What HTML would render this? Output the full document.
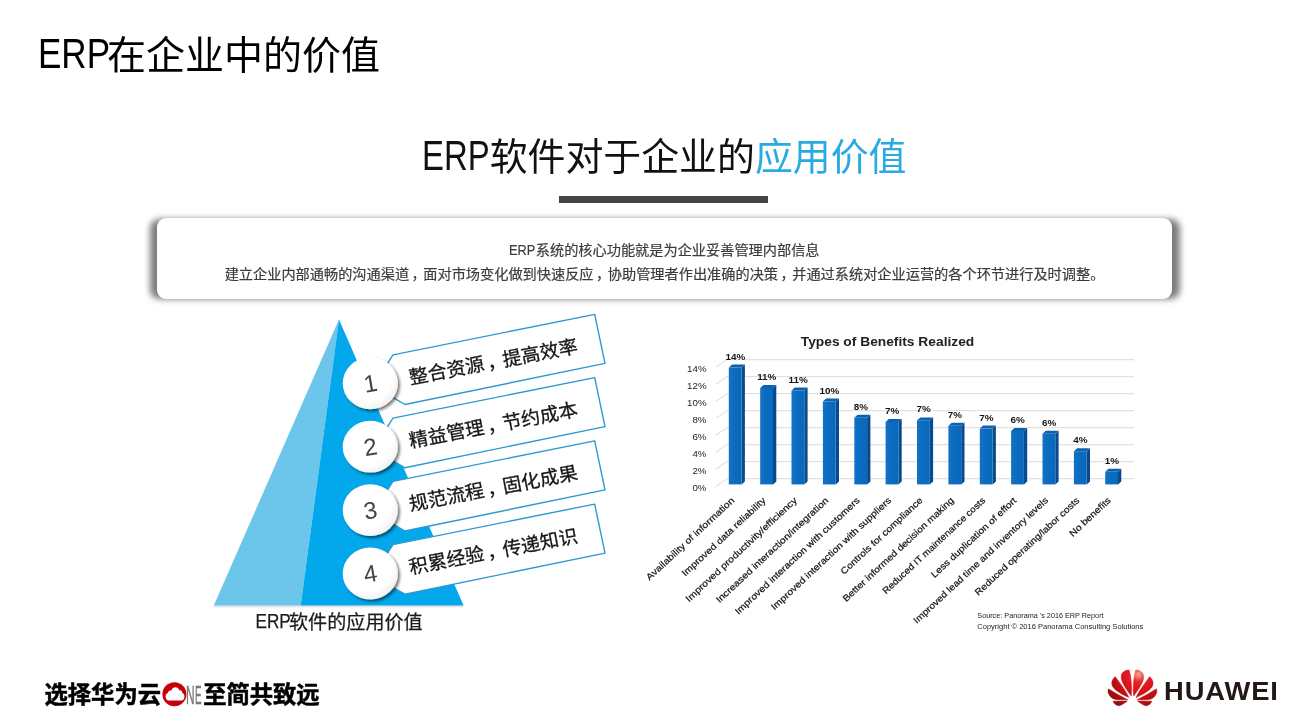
<!DOCTYPE html>
<html lang="zh-CN">
<head>
<meta charset="utf-8">
<title>ERP在企业中的价值</title>
<style>
html,body{margin:0;padding:0;background:#fff;}
body{width:1293px;height:721px;position:relative;overflow:hidden;font-family:"Liberation Sans","Noto Sans CJK SC",sans-serif;color:#000;}
.abs{position:absolute;white-space:nowrap;}
.lat{display:inline-block;transform-origin:0 68%;}
#t1erp{transform:translateY(-1px) scale(.898,1.10);margin-right:-10.9px;}
#t2erp{transform:scale(.868,1.10);margin-right:-10.3px;}
#title{left:37.7px;top:25.6px;font-size:39px;line-height:60px;color:#000;}
#h2{left:422px;top:127.2px;font-size:37.9px;line-height:60px;color:#111;}
#h2 .blue{color:#29abe2;}
#ubar{left:559px;top:195.5px;width:209px;height:7px;background:#444;}
#box{left:157px;top:217.6px;width:1015px;height:81px;border-radius:9px;background:#fff;}
#boxsh{left:149.5px;top:219px;width:1030px;height:80px;border-radius:9px;background:#7c7c7c;filter:blur(3px);}
.bl{left:157px;width:1015px;text-align:center;font-size:14.2px;line-height:20px;color:#3c3c3c;-webkit-text-stroke:0.2px #3c3c3c;}
.cm{position:relative;left:2.5px;}
#b_erp{transform:scaleX(.9);margin-right:-2.8px;}
#foot{left:44.5px;top:678.6px;font-size:23.3px;line-height:32px;font-weight:700;color:#000;-webkit-text-stroke:0.5px #000;}
#hw{left:1164.4px;top:675.8px;font-size:25.3px;line-height:30px;font-weight:bold;color:#231815;letter-spacing:0.85px;transform:scaleX(1.08);transform-origin:0 50%;}
svg{position:absolute;left:0;top:0;}
</style>
</head>
<body>
<div id="title" class="abs"><span class="lat" id="t1erp">ERP</span>在企业中的价值</div>
<div id="h2" class="abs"><span class="lat" id="t2erp">ERP</span>软件对于企业的<span class="blue">应用价值</span></div>
<div id="ubar" class="abs"></div>
<div id="boxsh" class="abs"></div>
<div id="box" class="abs"></div>
<div class="abs bl" style="top:240px"><span class="lat" id="b_erp">ERP</span>系统的核心功能就是为企业妥善管理内部信息</div>
<div class="abs bl" style="top:264px">建立企业内部通畅的沟通渠道<span class="cm">，</span>面对市场变化做到快速反应<span class="cm">，</span>协助管理者作出准确的决策<span class="cm">，</span>并通过系统对企业运营的各个环节进行及时调整。</div>
<svg id="art" width="1293" height="721" viewBox="0 0 1293 721">
<defs>
<filter id="csh" x="-40%" y="-40%" width="190%" height="190%"><feGaussianBlur in="SourceAlpha" stdDeviation="1.7"/><feOffset dx="2.2" dy="2.2"/><feComponentTransfer><feFuncA type="linear" slope="0.55"/></feComponentTransfer><feMerge><feMergeNode/><feMergeNode in="SourceGraphic"/></feMerge></filter>
<radialGradient id="cg" cx="40%" cy="38%" r="70%"><stop offset="0.7" stop-color="#ffffff"/><stop offset="1" stop-color="#ececec"/></radialGradient>
<linearGradient id="bsh" x1="0" y1="0" x2="0" y2="1"><stop offset="0" stop-color="#bbb" stop-opacity="0.7"/><stop offset="1" stop-color="#fff" stop-opacity="0"/></linearGradient>
</defs>
<rect x="213.8" y="605.6" width="249.8" height="3.5" fill="url(#bsh)"/>
<polygon points="339,319.4 213.8,605.6 300.7,605.6" fill="#6cc5ea"/>
<polygon points="339,319.4 300.7,605.6 463.6,605.6" fill="#02a8eb"/>
<polygon points="376.0,383.0 387.7,363.1 393.0,354.9 594.7,314.4 605.0,363.4 404.9,404.5 394.9,398.7" fill="#fff" stroke="#2f98cf" stroke-width="1.4" stroke-linejoin="round"/>
<text x="493.3" y="361.8" transform="rotate(-11 493.3 361.8)" text-anchor="middle" dominant-baseline="central" font-size="19" fill="#161616" stroke="#161616" stroke-width="0.3" font-family="'Liberation Sans','Noto Sans CJK SC',sans-serif">整合资源<tspan dx="3">，</tspan><tspan dx="-3">提高效率</tspan></text>
<polygon points="376.0,446.2 387.7,426.4 393.0,418.1 594.7,377.6 605.0,426.6 404.9,467.8 394.9,461.9" fill="#fff" stroke="#2f98cf" stroke-width="1.4" stroke-linejoin="round"/>
<text x="493.3" y="425.1" transform="rotate(-11 493.3 425.1)" text-anchor="middle" dominant-baseline="central" font-size="19" fill="#161616" stroke="#161616" stroke-width="0.3" font-family="'Liberation Sans','Noto Sans CJK SC',sans-serif">精益管理<tspan dx="3">，</tspan><tspan dx="-3">节约成本</tspan></text>
<polygon points="376.0,509.5 387.7,489.6 393.0,481.4 594.7,440.9 605.0,489.9 404.9,531.0 394.9,525.2" fill="#fff" stroke="#2f98cf" stroke-width="1.4" stroke-linejoin="round"/>
<text x="493.3" y="488.3" transform="rotate(-11 493.3 488.3)" text-anchor="middle" dominant-baseline="central" font-size="19" fill="#161616" stroke="#161616" stroke-width="0.3" font-family="'Liberation Sans','Noto Sans CJK SC',sans-serif">规范流程<tspan dx="3">，</tspan><tspan dx="-3">固化成果</tspan></text>
<polygon points="376.0,572.8 387.7,552.9 393.0,544.6 594.7,504.1 605.0,553.1 404.9,594.2 394.9,588.5" fill="#fff" stroke="#2f98cf" stroke-width="1.4" stroke-linejoin="round"/>
<text x="493.3" y="551.5" transform="rotate(-11 493.3 551.5)" text-anchor="middle" dominant-baseline="central" font-size="19" fill="#161616" stroke="#161616" stroke-width="0.3" font-family="'Liberation Sans','Noto Sans CJK SC',sans-serif">积累经验<tspan dx="3">，</tspan><tspan dx="-3">传递知识</tspan></text>
<ellipse cx="370.3" cy="383.3" rx="27.6" ry="25.9" fill="url(#cg)" filter="url(#csh)"/>
<text x="370.3" y="391.8" transform="rotate(-10 370.3 383.3)" text-anchor="middle" font-size="24" font-weight="300" fill="#444" font-family="'Liberation Sans','Noto Sans CJK SC',sans-serif">1</text>
<ellipse cx="370.3" cy="446.7" rx="27.6" ry="25.9" fill="url(#cg)" filter="url(#csh)"/>
<text x="370.3" y="455.2" transform="rotate(-10 370.3 446.7)" text-anchor="middle" font-size="24" font-weight="300" fill="#444" font-family="'Liberation Sans','Noto Sans CJK SC',sans-serif">2</text>
<ellipse cx="370.3" cy="510.1" rx="27.6" ry="25.9" fill="url(#cg)" filter="url(#csh)"/>
<text x="370.3" y="518.6" transform="rotate(-10 370.3 510.1)" text-anchor="middle" font-size="24" font-weight="300" fill="#444" font-family="'Liberation Sans','Noto Sans CJK SC',sans-serif">3</text>
<ellipse cx="370.3" cy="573.5" rx="27.6" ry="25.9" fill="url(#cg)" filter="url(#csh)"/>
<text x="370.3" y="582.0" transform="rotate(-10 370.3 573.5)" text-anchor="middle" font-size="24" font-weight="300" fill="#444" font-family="'Liberation Sans','Noto Sans CJK SC',sans-serif">4</text>
<text x="255.6" y="628.3" font-size="21" fill="#1c1c1c" stroke="#1c1c1c" stroke-width="0.25" textLength="35.2" lengthAdjust="spacingAndGlyphs" font-family="'Liberation Sans','Noto Sans CJK SC',sans-serif">ERP</text>
<text x="289.0" y="628.6" font-size="19.1" fill="#1c1c1c" stroke="#1c1c1c" stroke-width="0.25" font-family="'Liberation Sans','Noto Sans CJK SC',sans-serif">软件的应用价值</text>
<defs>
<linearGradient id="bf" x1="0" y1="0" x2="1" y2="0"><stop offset="0" stop-color="#1173c8"/><stop offset="0.35" stop-color="#0c6cc0"/><stop offset="1" stop-color="#0a68bb"/></linearGradient>
</defs>
<text x="887.5" y="346" text-anchor="middle" font-size="13.4" font-weight="bold" fill="#222" textLength="173.5" lengthAdjust="spacingAndGlyphs" font-family="'Liberation Sans','Noto Sans CJK SC',sans-serif">Types of Benefits Realized</text>
<path d="M716,486.2 L727,478.7 L1134,478.7" fill="none" stroke="#dadada" stroke-width="1"/>
<text x="706.5" y="490.7" text-anchor="end" font-size="9.7" fill="#222" font-family="'Liberation Sans','Noto Sans CJK SC',sans-serif">0%</text>
<path d="M716,469.2 L727,461.7 L1134,461.7" fill="none" stroke="#dadada" stroke-width="1"/>
<text x="706.5" y="473.7" text-anchor="end" font-size="9.7" fill="#222" font-family="'Liberation Sans','Noto Sans CJK SC',sans-serif">2%</text>
<path d="M716,452.2 L727,444.7 L1134,444.7" fill="none" stroke="#dadada" stroke-width="1"/>
<text x="706.5" y="456.7" text-anchor="end" font-size="9.7" fill="#222" font-family="'Liberation Sans','Noto Sans CJK SC',sans-serif">4%</text>
<path d="M716,435.2 L727,427.7 L1134,427.7" fill="none" stroke="#dadada" stroke-width="1"/>
<text x="706.5" y="439.7" text-anchor="end" font-size="9.7" fill="#222" font-family="'Liberation Sans','Noto Sans CJK SC',sans-serif">6%</text>
<path d="M716,418.2 L727,410.7 L1134,410.7" fill="none" stroke="#dadada" stroke-width="1"/>
<text x="706.5" y="422.7" text-anchor="end" font-size="9.7" fill="#222" font-family="'Liberation Sans','Noto Sans CJK SC',sans-serif">8%</text>
<path d="M716,401.2 L727,393.7 L1134,393.7" fill="none" stroke="#dadada" stroke-width="1"/>
<text x="706.5" y="405.7" text-anchor="end" font-size="9.7" fill="#222" font-family="'Liberation Sans','Noto Sans CJK SC',sans-serif">10%</text>
<path d="M716,384.2 L727,376.7 L1134,376.7" fill="none" stroke="#dadada" stroke-width="1"/>
<text x="706.5" y="388.7" text-anchor="end" font-size="9.7" fill="#222" font-family="'Liberation Sans','Noto Sans CJK SC',sans-serif">12%</text>
<path d="M716,367.2 L727,359.7 L1134,359.7" fill="none" stroke="#dadada" stroke-width="1"/>
<text x="706.5" y="371.7" text-anchor="end" font-size="9.7" fill="#222" font-family="'Liberation Sans','Noto Sans CJK SC',sans-serif">14%</text>
<polygon points="741.6,367.5 744.9,364.5 744.9,481.4 741.6,484.4" fill="#074b8e"/>
<polygon points="728.8,367.5 732.1,364.5 744.9,364.5 741.6,367.5" fill="#0b62b0"/>
<rect x="728.8" y="367.5" width="12.8" height="116.9" fill="url(#bf)"/>
<text x="735.4" y="359.5" text-anchor="middle" font-size="9.9" font-weight="bold" fill="#151515" font-family="'Liberation Sans','Noto Sans CJK SC',sans-serif">14%</text>
<polygon points="773.0,388.0 776.3,385.0 776.3,481.4 773.0,484.4" fill="#074b8e"/>
<polygon points="760.2,388.0 763.5,385.0 776.3,385.0 773.0,388.0" fill="#0b62b0"/>
<rect x="760.2" y="388.0" width="12.8" height="96.4" fill="url(#bf)"/>
<text x="766.8" y="380.0" text-anchor="middle" font-size="9.9" font-weight="bold" fill="#151515" font-family="'Liberation Sans','Noto Sans CJK SC',sans-serif">11%</text>
<polygon points="804.3,390.5 807.6,387.5 807.6,481.4 804.3,484.4" fill="#074b8e"/>
<polygon points="791.5,390.5 794.8,387.5 807.6,387.5 804.3,390.5" fill="#0b62b0"/>
<rect x="791.5" y="390.5" width="12.8" height="93.9" fill="url(#bf)"/>
<text x="798.1" y="382.5" text-anchor="middle" font-size="9.9" font-weight="bold" fill="#151515" font-family="'Liberation Sans','Noto Sans CJK SC',sans-serif">11%</text>
<polygon points="835.7,401.5 839.0,398.5 839.0,481.4 835.7,484.4" fill="#074b8e"/>
<polygon points="822.9,401.5 826.2,398.5 839.0,398.5 835.7,401.5" fill="#0b62b0"/>
<rect x="822.9" y="401.5" width="12.8" height="82.9" fill="url(#bf)"/>
<text x="829.5" y="393.5" text-anchor="middle" font-size="9.9" font-weight="bold" fill="#151515" font-family="'Liberation Sans','Noto Sans CJK SC',sans-serif">10%</text>
<polygon points="867.1,417.7 870.4,414.7 870.4,481.4 867.1,484.4" fill="#074b8e"/>
<polygon points="854.3,417.7 857.6,414.7 870.4,414.7 867.1,417.7" fill="#0b62b0"/>
<rect x="854.3" y="417.7" width="12.8" height="66.7" fill="url(#bf)"/>
<text x="860.9" y="409.7" text-anchor="middle" font-size="9.9" font-weight="bold" fill="#151515" font-family="'Liberation Sans','Noto Sans CJK SC',sans-serif">8%</text>
<polygon points="898.4,422.0 901.7,419.0 901.7,481.4 898.4,484.4" fill="#074b8e"/>
<polygon points="885.6,422.0 888.9,419.0 901.7,419.0 898.4,422.0" fill="#0b62b0"/>
<rect x="885.6" y="422.0" width="12.8" height="62.4" fill="url(#bf)"/>
<text x="892.2" y="414.0" text-anchor="middle" font-size="9.9" font-weight="bold" fill="#151515" font-family="'Liberation Sans','Noto Sans CJK SC',sans-serif">7%</text>
<polygon points="929.8,420.4 933.1,417.4 933.1,481.4 929.8,484.4" fill="#074b8e"/>
<polygon points="917.0,420.4 920.3,417.4 933.1,417.4 929.8,420.4" fill="#0b62b0"/>
<rect x="917.0" y="420.4" width="12.8" height="64.0" fill="url(#bf)"/>
<text x="923.6" y="412.4" text-anchor="middle" font-size="9.9" font-weight="bold" fill="#151515" font-family="'Liberation Sans','Noto Sans CJK SC',sans-serif">7%</text>
<polygon points="961.2,425.7 964.5,422.7 964.5,481.4 961.2,484.4" fill="#074b8e"/>
<polygon points="948.4,425.7 951.7,422.7 964.5,422.7 961.2,425.7" fill="#0b62b0"/>
<rect x="948.4" y="425.7" width="12.8" height="58.7" fill="url(#bf)"/>
<text x="955.0" y="417.7" text-anchor="middle" font-size="9.9" font-weight="bold" fill="#151515" font-family="'Liberation Sans','Noto Sans CJK SC',sans-serif">7%</text>
<polygon points="992.6,428.6 995.9,425.6 995.9,481.4 992.6,484.4" fill="#074b8e"/>
<polygon points="979.8,428.6 983.1,425.6 995.9,425.6 992.6,428.6" fill="#0b62b0"/>
<rect x="979.8" y="428.6" width="12.8" height="55.8" fill="url(#bf)"/>
<text x="986.4" y="420.6" text-anchor="middle" font-size="9.9" font-weight="bold" fill="#151515" font-family="'Liberation Sans','Noto Sans CJK SC',sans-serif">7%</text>
<polygon points="1023.9,431.0 1027.2,428.0 1027.2,481.4 1023.9,484.4" fill="#074b8e"/>
<polygon points="1011.1,431.0 1014.4,428.0 1027.2,428.0 1023.9,431.0" fill="#0b62b0"/>
<rect x="1011.1" y="431.0" width="12.8" height="53.4" fill="url(#bf)"/>
<text x="1017.7" y="423.0" text-anchor="middle" font-size="9.9" font-weight="bold" fill="#151515" font-family="'Liberation Sans','Noto Sans CJK SC',sans-serif">6%</text>
<polygon points="1055.3,433.7 1058.6,430.7 1058.6,481.4 1055.3,484.4" fill="#074b8e"/>
<polygon points="1042.5,433.7 1045.8,430.7 1058.6,430.7 1055.3,433.7" fill="#0b62b0"/>
<rect x="1042.5" y="433.7" width="12.8" height="50.7" fill="url(#bf)"/>
<text x="1049.1" y="425.7" text-anchor="middle" font-size="9.9" font-weight="bold" fill="#151515" font-family="'Liberation Sans','Noto Sans CJK SC',sans-serif">6%</text>
<polygon points="1086.7,451.2 1090.0,448.2 1090.0,481.4 1086.7,484.4" fill="#074b8e"/>
<polygon points="1073.9,451.2 1077.2,448.2 1090.0,448.2 1086.7,451.2" fill="#0b62b0"/>
<rect x="1073.9" y="451.2" width="12.8" height="33.2" fill="url(#bf)"/>
<text x="1080.5" y="443.2" text-anchor="middle" font-size="9.9" font-weight="bold" fill="#151515" font-family="'Liberation Sans','Noto Sans CJK SC',sans-serif">4%</text>
<polygon points="1118.0,471.8 1121.3,468.8 1121.3,481.4 1118.0,484.4" fill="#074b8e"/>
<polygon points="1105.2,471.8 1108.5,468.8 1121.3,468.8 1118.0,471.8" fill="#0b62b0"/>
<rect x="1105.2" y="471.8" width="12.8" height="12.6" fill="url(#bf)"/>
<text x="1111.8" y="463.8" text-anchor="middle" font-size="9.9" font-weight="bold" fill="#151515" font-family="'Liberation Sans','Noto Sans CJK SC',sans-serif">1%</text>
<text transform="translate(734.3 499.0) rotate(-43)" x="-1" y="2" text-anchor="end" font-size="9.1" fill="#111" stroke="#111" stroke-width="0.2" textLength="116.8" lengthAdjust="spacingAndGlyphs" font-family="'Liberation Sans','Noto Sans CJK SC',sans-serif">Availability of information</text>
<text transform="translate(765.7 499.0) rotate(-43)" x="-1" y="2" text-anchor="end" font-size="9.1" fill="#111" stroke="#111" stroke-width="0.2" textLength="110.9" lengthAdjust="spacingAndGlyphs" font-family="'Liberation Sans','Noto Sans CJK SC',sans-serif">Improved data reliability</text>
<text transform="translate(797.0 499.0) rotate(-43)" x="-1" y="2" text-anchor="end" font-size="9.1" fill="#111" stroke="#111" stroke-width="0.2" textLength="148.5" lengthAdjust="spacingAndGlyphs" font-family="'Liberation Sans','Noto Sans CJK SC',sans-serif">Improved productivity/efficiency</text>
<text transform="translate(828.4 499.0) rotate(-43)" x="-1" y="2" text-anchor="end" font-size="9.1" fill="#111" stroke="#111" stroke-width="0.2" textLength="149.9" lengthAdjust="spacingAndGlyphs" font-family="'Liberation Sans','Noto Sans CJK SC',sans-serif">Increased interaction/integration</text>
<text transform="translate(859.8 499.0) rotate(-43)" x="-1" y="2" text-anchor="end" font-size="9.1" fill="#111" stroke="#111" stroke-width="0.2" textLength="166.9" lengthAdjust="spacingAndGlyphs" font-family="'Liberation Sans','Noto Sans CJK SC',sans-serif">Improved interaction with customers</text>
<text transform="translate(891.1 499.0) rotate(-43)" x="-1" y="2" text-anchor="end" font-size="9.1" fill="#111" stroke="#111" stroke-width="0.2" textLength="160.4" lengthAdjust="spacingAndGlyphs" font-family="'Liberation Sans','Noto Sans CJK SC',sans-serif">Improved interaction with suppliers</text>
<text transform="translate(922.5 499.0) rotate(-43)" x="-1" y="2" text-anchor="end" font-size="9.1" fill="#111" stroke="#111" stroke-width="0.2" textLength="108.2" lengthAdjust="spacingAndGlyphs" font-family="'Liberation Sans','Noto Sans CJK SC',sans-serif">Controls for compliance</text>
<text transform="translate(953.9 499.0) rotate(-43)" x="-1" y="2" text-anchor="end" font-size="9.1" fill="#111" stroke="#111" stroke-width="0.2" textLength="148.1" lengthAdjust="spacingAndGlyphs" font-family="'Liberation Sans','Noto Sans CJK SC',sans-serif">Better informed decision making</text>
<text transform="translate(985.3 499.0) rotate(-43)" x="-1" y="2" text-anchor="end" font-size="9.1" fill="#111" stroke="#111" stroke-width="0.2" textLength="136.8" lengthAdjust="spacingAndGlyphs" font-family="'Liberation Sans','Noto Sans CJK SC',sans-serif">Reduced IT maintenance costs</text>
<text transform="translate(1016.6 499.0) rotate(-43)" x="-1" y="2" text-anchor="end" font-size="9.1" fill="#111" stroke="#111" stroke-width="0.2" textLength="113.1" lengthAdjust="spacingAndGlyphs" font-family="'Liberation Sans','Noto Sans CJK SC',sans-serif">Less duplication of effort</text>
<text transform="translate(1048.0 499.0) rotate(-43)" x="-1" y="2" text-anchor="end" font-size="9.1" fill="#111" stroke="#111" stroke-width="0.2" textLength="180.2" lengthAdjust="spacingAndGlyphs" font-family="'Liberation Sans','Noto Sans CJK SC',sans-serif">Improved lead time and inventory levels</text>
<text transform="translate(1079.4 499.0) rotate(-43)" x="-1" y="2" text-anchor="end" font-size="9.1" fill="#111" stroke="#111" stroke-width="0.2" textLength="139.0" lengthAdjust="spacingAndGlyphs" font-family="'Liberation Sans','Noto Sans CJK SC',sans-serif">Reduced operating/labor costs</text>
<text transform="translate(1110.7 499.0) rotate(-43)" x="-1" y="2" text-anchor="end" font-size="9.1" fill="#111" stroke="#111" stroke-width="0.2" textLength="52.9" lengthAdjust="spacingAndGlyphs" font-family="'Liberation Sans','Noto Sans CJK SC',sans-serif">No benefits</text>
<text x="977.3" y="618.3" font-size="7.1" fill="#222" textLength="126.3" lengthAdjust="spacingAndGlyphs" font-family="'Liberation Sans','Noto Sans CJK SC',sans-serif">Source: Panorama 's 2016 ERP Report</text>
<text x="977.3" y="628.6" font-size="7.1" fill="#222" textLength="166" lengthAdjust="spacingAndGlyphs" font-family="'Liberation Sans','Noto Sans CJK SC',sans-serif">Copyright © 2016 Panorama Consulting Solutions</text>
<text x="174.4" y="703" text-anchor="middle" font-size="25" font-weight="bold" fill="#c7000b" font-family="'Liberation Sans','Noto Sans CJK SC',sans-serif">O</text>
<circle cx="174.4" cy="694.2" r="12" fill="#c7000b"/>
<path d="M168.8,700.5 C165.0,700.5 164.4,694.0 168.0,692.8 C168.4,690.8 170.2,690.0 171.4,690.6 C172.6,686.2 178.4,686.4 179.4,690.4 C181.0,690.0 182.4,691.2 182.2,692.8 C185.6,694.0 185.0,700.5 181.6,700.5 Z" fill="#fff"/>
<text x="186.0" y="704" font-size="26.4" fill="#7a7a7a" stroke="#7a7a7a" stroke-width="0.45" textLength="8.6" lengthAdjust="spacingAndGlyphs" font-family="'Liberation Sans','Noto Sans CJK SC',sans-serif">N</text>
<text x="195.0" y="704" font-size="26.4" fill="#7a7a7a" stroke="#7a7a7a" stroke-width="0.45" textLength="6.6" lengthAdjust="spacingAndGlyphs" font-family="'Liberation Sans','Noto Sans CJK SC',sans-serif">E</text>
<g transform="translate(1100 660) scale(0.07210)">
<defs><radialGradient id="hwg" gradientUnits="userSpaceOnUse" cx="535" cy="200" r="470"><stop offset="0" stop-color="#f6a894"/><stop offset="0.22" stop-color="#e8232b"/><stop offset="0.55" stop-color="#d40f17"/><stop offset="1" stop-color="#9c0d0d"/></radialGradient></defs>
<path d="M432,500 C380,420 280,300 295,215 C305,160 370,135 405,140 C430,220 450,380 432,500 Z" fill="url(#hwg)" stroke="url(#hwg)" stroke-width="7" stroke-linejoin="round"/>
<path d="M400,520 C330,490 180,420 165,340 C155,290 190,245 213,232 C260,300 370,440 400,520 Z" fill="url(#hwg)" stroke="url(#hwg)" stroke-width="7" stroke-linejoin="round"/>
<path d="M385,550 C300,510 180,440 118,400 C100,440 120,510 190,540 C240,555 330,552 385,550 Z" fill="url(#hwg)" stroke="url(#hwg)" stroke-width="7" stroke-linejoin="round"/>
<path d="M380,568 L180,572 C195,610 235,640 270,633 C310,620 355,590 380,568 Z" fill="url(#hwg)" stroke="url(#hwg)" stroke-width="7" stroke-linejoin="round"/>
<g transform="translate(900 0) scale(-1 1)">
<defs><radialGradient id="hwg2" gradientUnits="userSpaceOnUse" cx="365" cy="200" r="470"><stop offset="0" stop-color="#f6a894"/><stop offset="0.22" stop-color="#e8232b"/><stop offset="0.55" stop-color="#d40f17"/><stop offset="1" stop-color="#9c0d0d"/></radialGradient></defs>
<path d="M432,500 C380,420 280,300 295,215 C305,160 370,135 405,140 C430,220 450,380 432,500 Z" fill="url(#hwg2)" stroke="url(#hwg2)" stroke-width="7" stroke-linejoin="round"/>
<path d="M400,520 C330,490 180,420 165,340 C155,290 190,245 213,232 C260,300 370,440 400,520 Z" fill="url(#hwg2)" stroke="url(#hwg2)" stroke-width="7" stroke-linejoin="round"/>
<path d="M385,550 C300,510 180,440 118,400 C100,440 120,510 190,540 C240,555 330,552 385,550 Z" fill="url(#hwg2)" stroke="url(#hwg2)" stroke-width="7" stroke-linejoin="round"/>
<path d="M380,568 L180,572 C195,610 235,640 270,633 C310,620 355,590 380,568 Z" fill="url(#hwg2)" stroke="url(#hwg2)" stroke-width="7" stroke-linejoin="round"/>
</g></g>
</svg>
<div id="foot" class="abs">选择华为云<span style="display:inline-block;width:42.2px"></span>至简共致远</div>
<div id="hw" class="abs">HUAWEI</div>
</body>
</html>
